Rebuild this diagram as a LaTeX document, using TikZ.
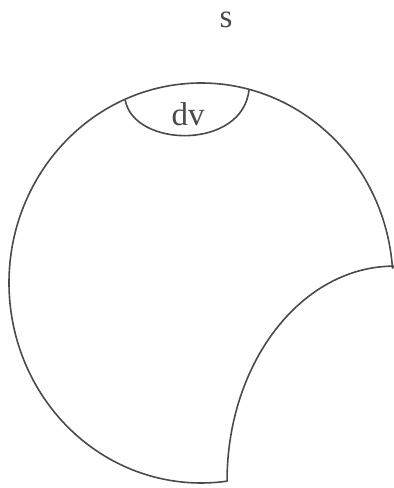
\documentclass[tikz,border=0pt]{standalone}
\usepackage{fontspec}
\setmainfont{Liberation Serif}
\usepackage{tikz}
\usetikzlibrary{calc}
\definecolor{SketchInk}{HTML}{4A4A4A}
\tikzset{
  outline/.style={
    draw=SketchInk,
    line width=1.6pt,
    line join=round
  },
  letter/.style={
    font=\fontsize{33}{36}\selectfont,
    text=SketchInk,
    inner sep=0pt
  }
}
\begin{document}
\begin{tikzpicture}[x=1pt,y=1pt]
  \useasboundingbox (0,0) rectangle (394,488);
  \coordinate (c) at (201,205);
  \coordinate (a) at ($(c)+(4.3:192 and 200)$);
  \coordinate (b) at ($(c)+(277.8:192 and 200)$);
  \coordinate (dl) at ($(c)+(113.3:192 and 200)$);
  \coordinate (dr) at ($(c)+(75.5:192 and 200)$);

  % body with the cut-away corner
  \draw[outline] (a) arc[start angle=4.3,end angle=277.8,x radius=192,y radius=200]
    arc[start angle=180,end angle=90,x radius=167,y radius=215] -- cycle;

  % small volume element at the surface
  \draw[outline] (dl) .. controls ($(dl)+(8,-49)$) and ($(dr)+(-6,-61)$) .. (dr);
  \node[letter] (dv) at (188,374) {dv};
  \node[letter] (s) at (226,468) {s};
\end{tikzpicture}
\end{document}
